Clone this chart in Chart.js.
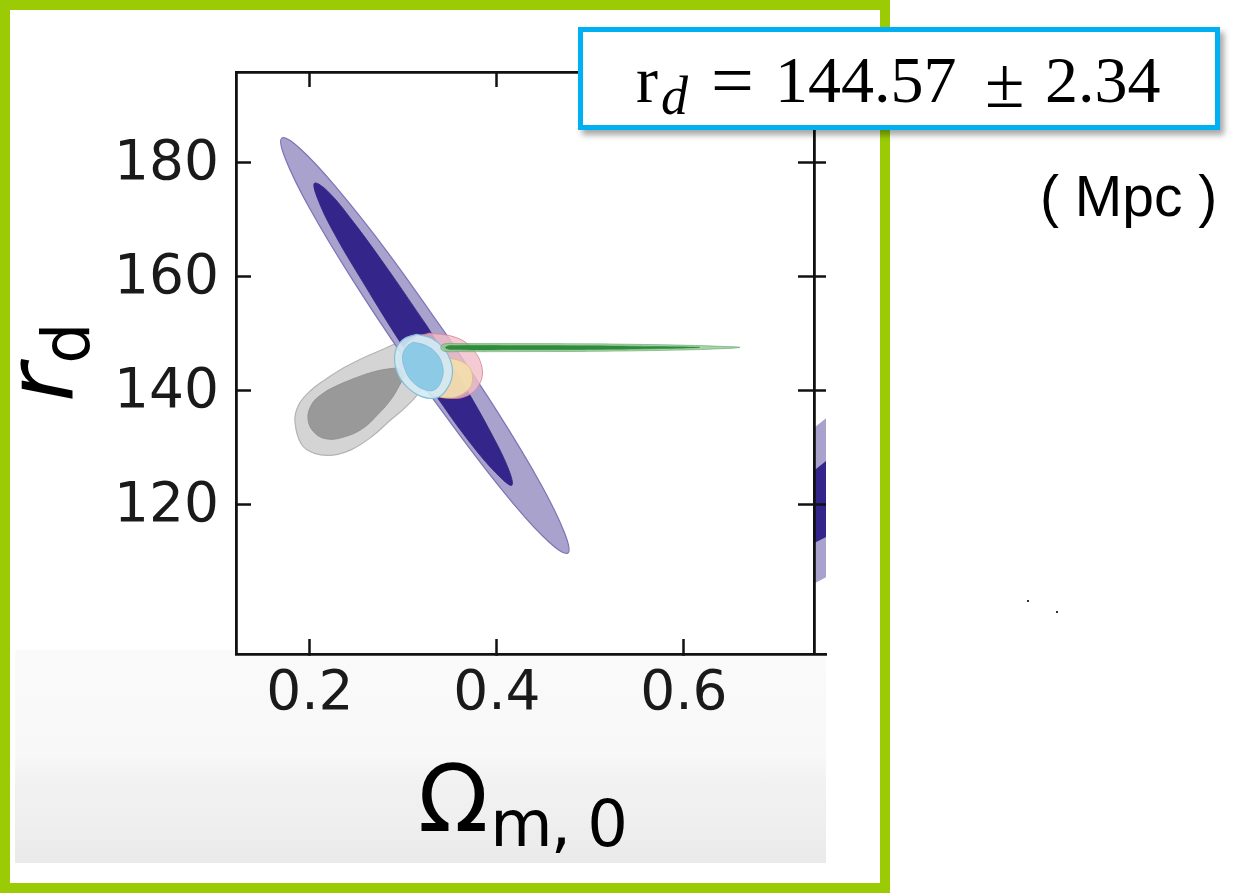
<!DOCTYPE html>
<html>
<head>
<meta charset="utf-8">
<script src="https://cdn.jsdelivr.net/npm/chart.js@4.4.1/dist/chart.umd.min.js"></script>
<style>
  html, body { margin: 0; padding: 0; background: #fff; }
  body { width: 1241px; height: 895px; position: relative; overflow: hidden; }
  #frame { position: absolute; left: 0; top: 0; width: 870px; height: 873px; border: 10px solid #9bcb05; z-index: 3; }
  #band { position: absolute; left: 15px; top: 650px; width: 811px; height: 213px; z-index: 1;
    background: linear-gradient(to bottom, #fafafa 0%, #f8f8f8 50%, #f2f2f2 60%, #efefef 80%, #eaeaea 100%); }
  #plot { position: absolute; left: 0; top: 0; z-index: 2; }
  #ytitle { position: absolute; left: -6px; top: 402px; transform: rotate(-90deg); transform-origin: 0 0;
    font-family: 'DejaVu Sans'; font-size: 93px; line-height: 93px; white-space: nowrap; color: #000; z-index: 3; }
  #ytitle .ri { font-style: italic; }
  #ytitle .sd { font-size: 65px; position: relative; top: 17px; }
  #xtitle { position: absolute; left: 418px; top: 754px; font-family: 'DejaVu Sans'; font-size: 92px;
    line-height: 92px; white-space: nowrap; color: #000; z-index: 3; }
  #xtitle .sm { font-size: 64px; position: relative; top: 15px; letter-spacing: -2px; margin-left: 2px; }
  #box { position: absolute; left: 578px; top: 27px; width: 632px; height: 93px;
    border: 5px solid #00b0f0; background: #fff; box-shadow: 4px 5px 6px rgba(0,0,0,0.35);
    font-family: 'Liberation Serif'; color: #000; z-index: 4; }
  #box span { position: absolute; white-space: nowrap; }
  #box .r  { left: 53px;  top: 15px; font-size: 66px; line-height: 66px; }
  #box .d  { left: 78px;  top: 37px; font-size: 54px; line-height: 54px; font-style: italic; }
  #box .eq { left: 128px; top: 10px; font-size: 76px; line-height: 76px; }
  #box .n1 { left: 192px; top: 15px; font-size: 66px; line-height: 66px; }
  #box .pm { left: 402px; top: 15px; font-size: 72px; line-height: 72px; }
  #box .n2 { left: 462px; top: 15px; font-size: 66px; line-height: 66px; }
  #mpc { position: absolute; left: 1040px; top: 168px; font-family: 'Liberation Sans'; font-size: 57px;
    line-height: 57px; white-space: nowrap; color: #000; }
  .dot { position: absolute; width: 2px; height: 2px; background: #333; }
</style>
</head>
<body>
<div id="band"></div>
<canvas id="plot" width="840" height="760"></canvas>
<div id="frame"></div>
<div id="ytitle"><span class="ri">r</span><span class="sd">d</span></div>
<div id="xtitle">Ω<span class="sm">m, 0</span></div>
<div id="box"><span class="r">r</span><span class="d">d</span><span class="eq">=</span><span class="n1">144.57</span><span class="pm">±</span><span class="n2">2.34</span></div>
<div id="mpc">( Mpc )</div>
<div class="dot" style="left:1027px;top:600px"></div>
<div class="dot" style="left:1056px;top:611px"></div>
<script>
// axis ranges and ticks (Omega_m,0 on x, r_d on y)
var xRange = [0.121, 0.752];
var yRange = [93.7, 195.8];
var xTicks = [0.2, 0.4, 0.6];
var yTicks = [120, 140, 160, 180];
var rightSpineX = 0.74;

// contour outlines
var purpleOuterX = [0.344,0.284,0.230,0.190,0.170,0.174,0.200,0.245,0.302,0.362,0.416,0.456,0.476,0.472,0.446,0.401];
var purpleOuterY = [150.2,164.0,175.2,182.3,184.2,180.5,171.8,159.5,145.4,131.7,120.4,113.3,111.4,115.1,123.8,136.1];
var purpleInnerX = [0.325,0.283,0.246,0.219,0.205,0.208,0.226,0.258,0.297,0.338,0.375,0.403,0.416,0.413,0.395,0.364];
var purpleInnerY = [151.3,161.3,169.6,174.9,176.3,173.7,167.5,158.6,148.3,138.3,130.0,124.8,123.3,125.9,132.1,141.1];

var greyOuterX = [0.237,0.259,0.279,0.296,0.311,0.322,0.323,0.318,0.305,0.286,0.266,0.245,0.225,0.205,0.191,0.184,0.188,0.200,0.217];
var greyOuterY = [144.0,145.8,147.2,148.4,148.8,147.0,143.5,140.0,137.4,134.7,131.8,129.6,128.6,128.9,130.5,134.6,137.4,139.8,141.9];
var greyInnerX = [0.245,0.264,0.283,0.296,0.301,0.296,0.286,0.272,0.256,0.237,0.219,0.205,0.198,0.202,0.213,0.228];
var greyInnerY = [141.9,143.0,143.7,143.7,142.8,140.9,138.2,135.6,133.2,131.8,131.4,132.5,134.9,137.5,139.3,140.7];

var pinkX = [0.328,0.355,0.373,0.384,0.381,0.367,0.348,0.328,0.309,0.297,0.299,0.311];
var pinkY = [150.0,149.3,147.4,144.0,140.9,138.9,138.6,139.5,141.4,143.9,147.0,149.1];
var yellowX = [0.348,0.361,0.371,0.374,0.371,0.361,0.348,0.334,0.324,0.321,0.324,0.334];
var yellowY = [145.6,145.1,143.9,142.1,140.4,139.1,138.6,139.1,140.4,142.1,143.9,145.1];
var blueOuterX = [0.314,0.330,0.343,0.351,0.352,0.345,0.335,0.319,0.303,0.293,0.291,0.299];
var blueOuterY = [149.8,149.1,147.4,144.9,142.3,139.8,138.6,138.9,140.7,143.3,146.5,148.8];
var blueInnerX = [0.310,0.323,0.335,0.342,0.341,0.333,0.321,0.309,0.302,0.299,0.303];
var blueInnerY = [148.4,147.9,146.5,144.2,141.8,140.0,140.2,141.6,143.5,145.8,147.5];

var greenOuterX = [0.510,0.425,0.360,0.343,0.340,0.343,0.360,0.425,0.510,0.596,0.639,0.660,0.639,0.596];
var greenOuterY = [148.11,148.16,148.16,148.07,147.46,146.84,146.75,146.75,146.81,147.02,147.25,147.49,147.67,147.89];
var greenInnerX = [0.510,0.425,0.350,0.345,0.350,0.425,0.510,0.574,0.617,0.574];
var greenInnerY = [147.79,147.84,147.81,147.46,147.11,147.07,147.12,147.28,147.49,147.63];

// edge of the neighbouring panel's contour, cut at the spine
var nextOuterX = [0.740,0.760,0.760,0.740];
var nextOuterY = [133.5,136.1,107.9,106.1];
var nextInnerX = [0.740,0.760,0.760,0.740];
var nextInnerY = [126.0,128.6,114.9,113.2];

function loop(xs, ys) {
    var pts = xs.map(function (x, i) { return {x: x, y: ys[i]}; });
    pts.push({x: xs[0], y: ys[0]});
    return pts;
}

function contour(xs, ys, fill, edge, edgeWidth, order, tension) {
    return {
        data: loop(xs, ys),
        xAxisID: 'x', yAxisID: 'y',
        fill: 'shape',
        backgroundColor: fill,
        borderColor: edge,
        borderWidth: edgeWidth,
        pointRadius: 0,
        tension: tension === undefined ? 0.4 : tension,
        order: order
    };
}

var tickFont = {family: 'DejaVu Sans', size: 55};
var ink = '#111';

function fixTicks(list) {
    return function (scale) { scale.ticks = list.map(function (v) { return {value: v}; }); };
}

var ctx = document.getElementById('plot').getContext('2d');
var chart = new Chart(ctx, {
    type: 'line',
    data: {
        datasets: [
            contour(greyOuterX, greyOuterY, '#d4d4d4', '#b4b4b4', 1.2, 10),
            contour(greyInnerX, greyInnerY, '#999999', '#8c8c8c', 0.8, 9),
            contour(purpleOuterX, purpleOuterY, '#a8a2cd', '#7c74b6', 1.2, 8),
            contour(purpleInnerX, purpleInnerY, '#33258a', '#2e2280', 0.8, 7),
            contour(pinkX, pinkY, 'rgba(241,190,200,0.8)', 'rgba(214,128,150,0.8)', 1, 6),
            contour(yellowX, yellowY, 'rgba(246,224,172,0.85)', 'rgba(226,186,120,0.8)', 1, 5),
            contour(blueOuterX, blueOuterY, 'rgba(210,235,244,0.9)', '#88bcd6', 1.2, 4),
            contour(blueInnerX, blueInnerY, '#8ccae6', '#7dbcdc', 0.8, 3),
            contour(greenOuterX, greenOuterY, 'rgba(140,196,140,0.75)', 'rgba(90,160,95,0.7)', 0.8, 2),
            contour(greenInnerX, greenInnerY, '#2f8a3c', '#2f8a3c', 0.5, 1),
            contour(nextOuterX, nextOuterY, '#a8a2cd', '#a8a2cd', 0, 0.5, 0),
            contour(nextInnerX, nextInnerY, '#33258a', '#33258a', 0, 0.4, 0)
        ]
    },
    options: {
        responsive: false,
        animation: false,
        devicePixelRatio: 1,
        events: [],
        layout: {padding: {left: 0, right: 14, top: 72, bottom: 0}},
        plugins: {legend: {display: false}, tooltip: {enabled: false}},
        scales: {
            x: {
                type: 'linear', axis: 'x', position: 'bottom',
                min: xRange[0], max: xRange[1],
                afterBuildTicks: fixTicks(xTicks),
                afterFit: function (s) { s.height = 106; },
                grid: {drawOnChartArea: false, tickLength: -15, tickWidth: 2.5, tickColor: ink},
                border: {color: ink, width: 2.8},
                ticks: {font: tickFont, color: '#1a1a1a', padding: 23, maxRotation: 0,
                        callback: function (v) { return v.toFixed(1); }}
            },
            xTop: {
                type: 'linear', axis: 'x', position: 'top',
                min: xRange[0], max: xRange[1],
                afterBuildTicks: fixTicks(xTicks),
                afterFit: function (s) { s.height = 0; },
                grid: {drawOnChartArea: false, tickLength: -15, tickWidth: 2.5, tickColor: ink},
                border: {color: ink, width: 2.8},
                ticks: {display: false}
            },
            y: {
                type: 'linear', axis: 'y', position: 'left',
                min: yRange[0], max: yRange[1],
                afterBuildTicks: fixTicks(yTicks),
                afterFit: function (s) { s.width = 236; },
                grid: {drawOnChartArea: false, tickLength: -15, tickWidth: 2.5, tickColor: ink},
                border: {color: ink, width: 2.8},
                ticks: {font: tickFont, color: '#1a1a1a', padding: 32, labelOffset: 3}
            },
            yRight: {
                type: 'linear', axis: 'y', position: {x: rightSpineX},
                min: yRange[0], max: yRange[1],
                afterBuildTicks: fixTicks(yTicks),
                afterFit: function (s) { s.width = 0; },
                grid: {drawOnChartArea: false, tickLength: 15, tickWidth: 2.5, tickColor: ink, z: 1},
                border: {color: ink, width: 2.8, z: 1},
                ticks: {display: false}
            },
            yNext: {
                type: 'linear', axis: 'y', position: {x: rightSpineX},
                min: yRange[0], max: yRange[1],
                afterBuildTicks: fixTicks(yTicks),
                afterFit: function (s) { s.width = 0; },
                grid: {drawOnChartArea: false, tickLength: -11, tickWidth: 2.5, tickColor: ink, z: 1},
                border: {display: false},
                ticks: {display: false}
            }
        }
    }
});
</script>
</body>
</html>
